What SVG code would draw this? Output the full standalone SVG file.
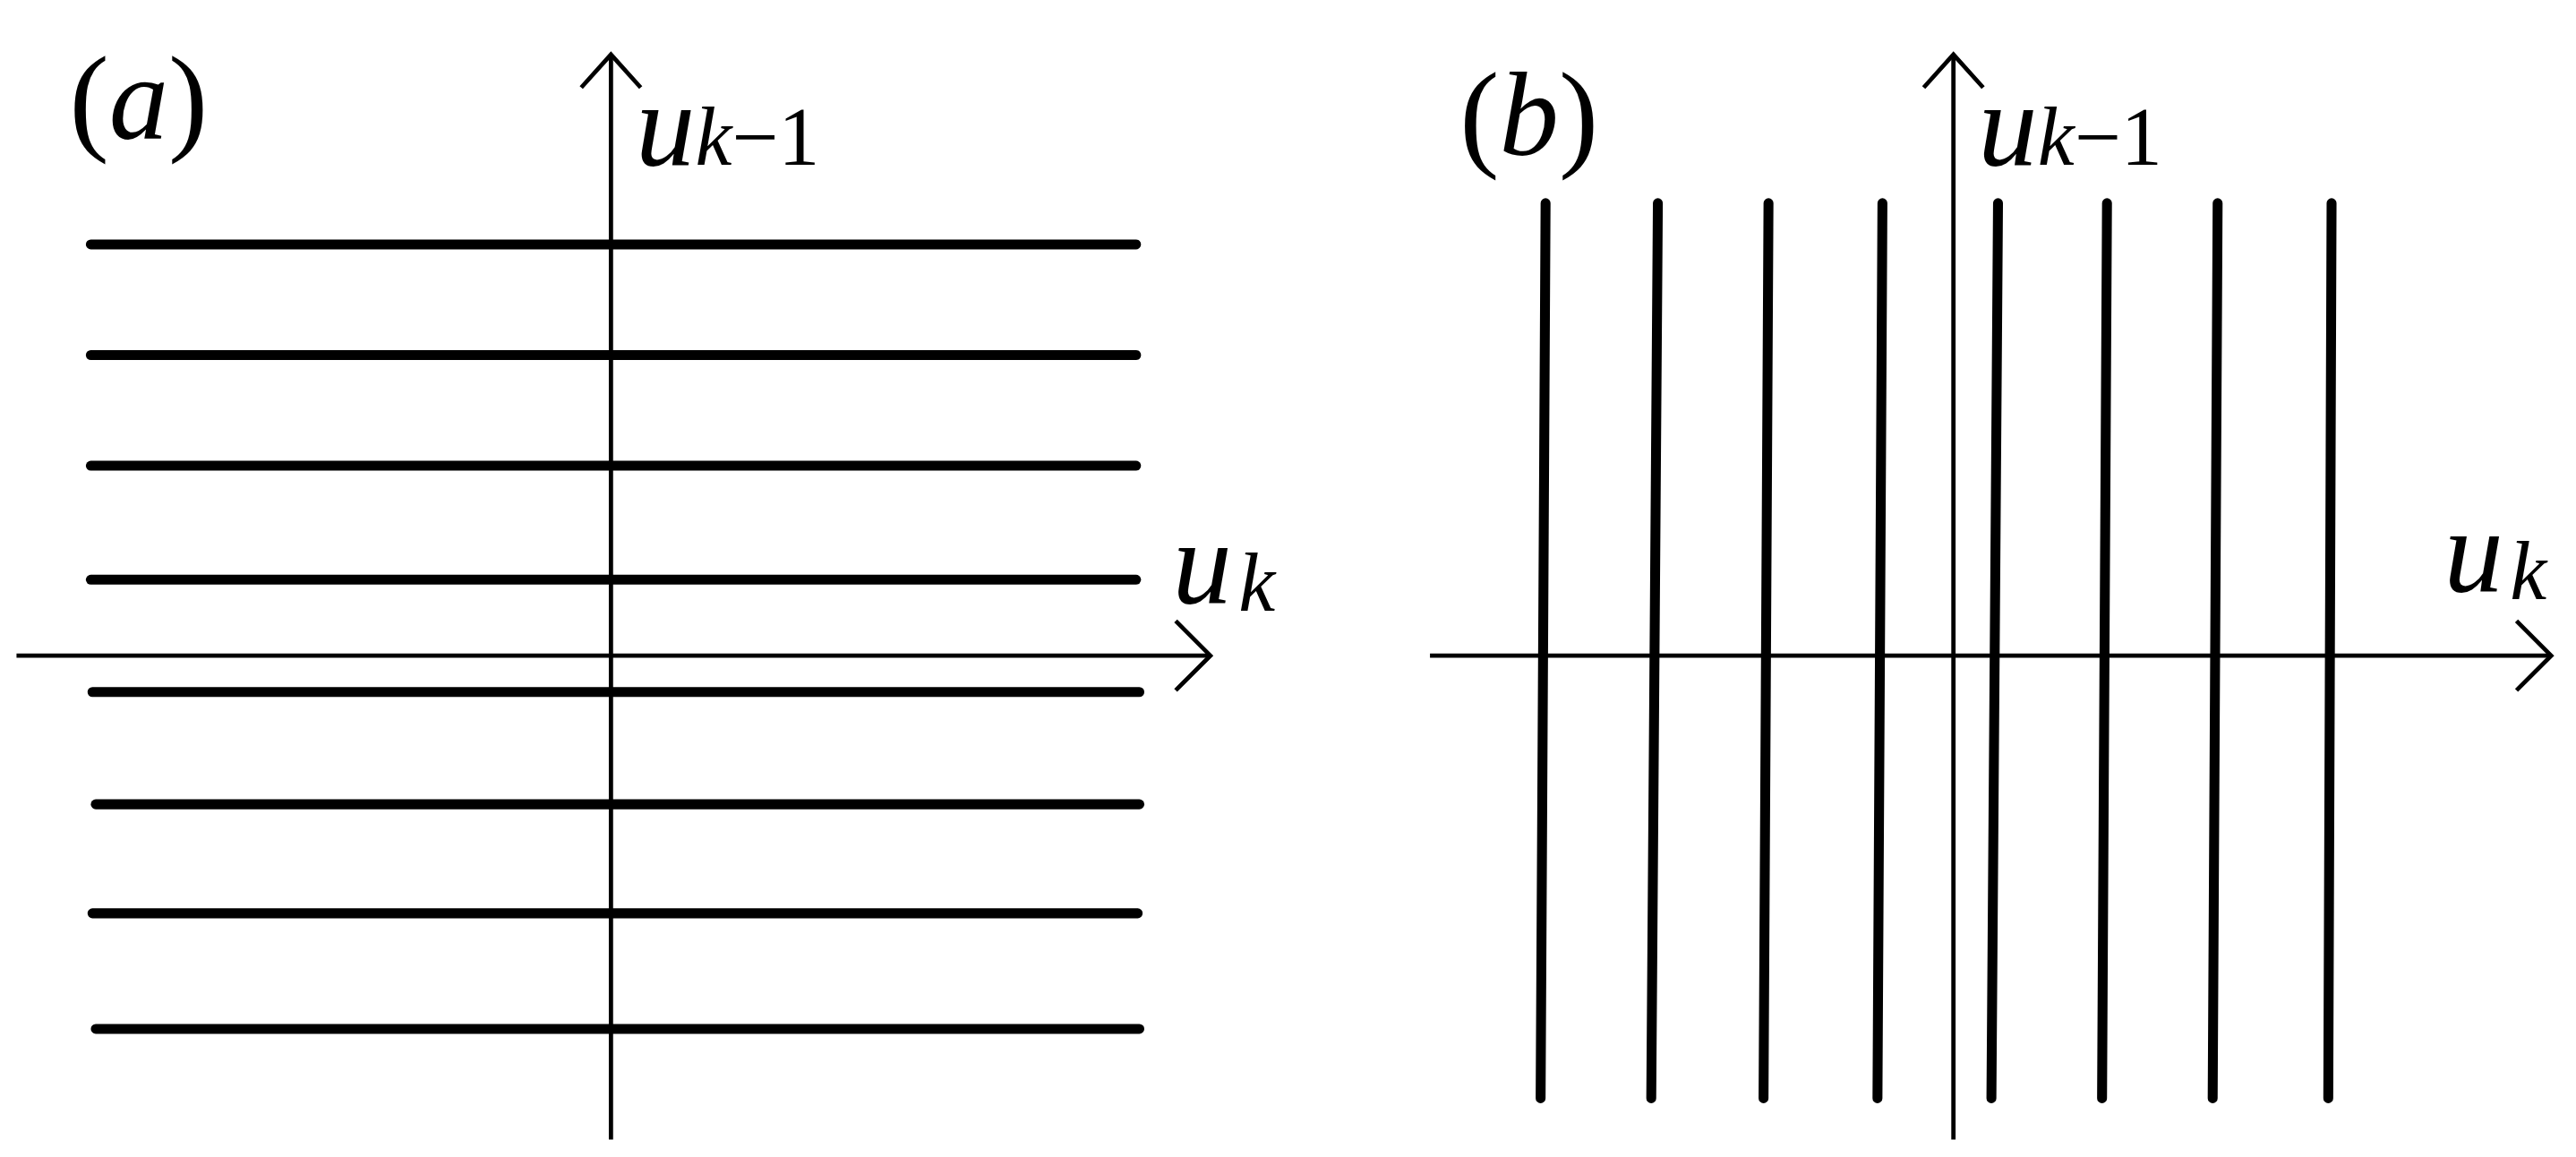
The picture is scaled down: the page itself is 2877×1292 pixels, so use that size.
<svg xmlns="http://www.w3.org/2000/svg" width="2877" height="1292" viewBox="0 0 2877 1292">
<style>
.ax{stroke:#000;stroke-width:2.6;fill:none}
.th{stroke:#000;stroke-width:6;stroke-linecap:round;fill:none}
text{font-family:"Liberation Serif",serif;fill:#000}
.it{font-style:italic}
</style>
<rect width="2877" height="1292" fill="#fff"/>
<g transform="scale(1.8442)">
<g id="panel-a">
<g id="a-axes">
<line class="ax" x1="370" y1="33" x2="370" y2="690"/>
<polyline class="ax" points="352,53 370,33 388,53"/>
<line class="ax" x1="10" y1="397" x2="733" y2="397"/>
<polyline class="ax" points="712,376 733,397 712,418"/>
</g>
<g id="a-lines">
<line class="th" x1="55" y1="148" x2="688" y2="148"/>
<line class="th" x1="55" y1="215" x2="688" y2="215"/>
<line class="th" x1="55" y1="282" x2="688" y2="282"/>
<line class="th" x1="55" y1="351" x2="688" y2="351"/>
<line class="th" x1="56" y1="419" x2="690" y2="419"/>
<line class="th" x1="58" y1="487" x2="690" y2="487"/>
<line class="th" x1="56" y1="553" x2="689" y2="553"/>
<line class="th" x1="58" y1="623" x2="690" y2="623"/>
</g>
<text x="42" y="84" font-size="72">(<tspan class="it">a</tspan>)</text>
<text x="385" y="100" font-size="72" class="it">u<tspan font-size="50" dy="0">k</tspan><tspan font-size="50" font-style="normal">−1</tspan></text>
<text x="710" y="365" font-size="72" class="it">u<tspan font-size="50" dx="4" dy="5">k</tspan></text>
</g>
<g id="panel-b">
<g id="b-axes">
<line class="ax" x1="1183" y1="33" x2="1183" y2="690"/>
<polyline class="ax" points="1165,53 1183,33 1201,53"/>
<line class="ax" x1="866" y1="397" x2="1545" y2="397"/>
<polyline class="ax" points="1524,376 1545,397 1524,418"/>
</g>
<g id="b-lines">
<line class="th" x1="936" y1="123" x2="933" y2="665"/>
<line class="th" x1="1004" y1="123" x2="1000" y2="665"/>
<line class="th" x1="1071" y1="123" x2="1068" y2="665"/>
<line class="th" x1="1140" y1="123" x2="1137" y2="665"/>
<line class="th" x1="1210" y1="123" x2="1206" y2="665"/>
<line class="th" x1="1276" y1="123" x2="1273" y2="665"/>
<line class="th" x1="1343" y1="123" x2="1340" y2="665"/>
<line class="th" x1="1412" y1="123" x2="1410" y2="665"/>
</g>
<text x="884" y="94" font-size="72">(<tspan class="it">b</tspan>)</text>
<text x="1198" y="100" font-size="72" class="it">u<tspan font-size="50">k</tspan><tspan font-size="50" font-style="normal">−1</tspan></text>
<text x="1480" y="358" font-size="72" class="it">u<tspan font-size="50" dx="4" dy="5">k</tspan></text>
</g>
</g>
</svg>
